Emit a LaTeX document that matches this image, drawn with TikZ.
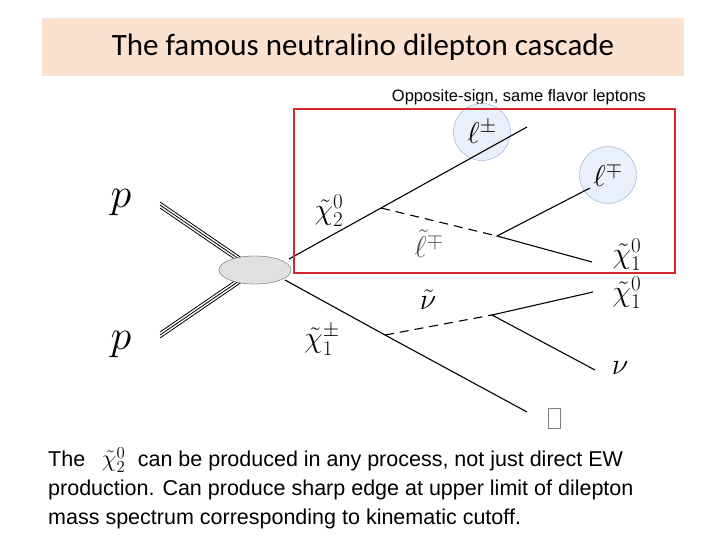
\RequirePackage{fix-cm}
\documentclass[tikz,border=0pt]{standalone}
\usepackage{fontspec}
\setmainfont{Liberation Sans}
\newfontfamily\titlefont{Carlito}
\usetikzlibrary{shapes.geometric}
\definecolor{peach}{HTML}{FBE2D0}
\definecolor{cfill}{HTML}{E9F0FB}
\definecolor{cdraw}{HTML}{8EA9DB}
\definecolor{rbox}{HTML}{D9262B}
\tikzset{
 prt/.style={line width=1.1pt},
 dsh/.style={line width=1.1pt,dash pattern=on 9pt off 6pt},
 lab/.style={font=\fontsize{30}{30}\selectfont,inner sep=0pt},
 bub/.style={circle,fill=cfill,draw=cdraw,minimum size=57pt,inner sep=0pt},
 body/.style={font=\fontsize{21.5}{29}\selectfont,anchor=north west,align=left,inner sep=0pt}
}
\begin{document}
\begin{tikzpicture}[x=1pt,y=-1pt]
\useasboundingbox (0,0) rectangle (720,540);
\node[fill=peach,minimum width=642pt,minimum height=58pt,inner sep=0pt,font=\titlefont\fontsize{31}{31}\selectfont] (title) at (363,47) {The famous neutralino dilepton cascade};
\node[font=\fontsize{16.5}{16.5}\selectfont] (oss) at (519,97) {Opposite-sign, same flavor leptons};
\node[bub] (c1) at (482,132) {};
\node[bub] (c2) at (608,175) {};
\node[ellipse,fill=black!12,draw=black!50,minimum width=72pt,minimum height=28pt,inner sep=0pt] (blob) at (255,270) {};
\coordinate (pa) at (160,205); \coordinate (pb) at (160,335);
\foreach \d in {-3,0,3} {
 \draw[line width=0.8pt] ([yshift=\d pt]pa) -- ([yshift=\d pt]blob.center);
 \draw[line width=0.8pt] ([yshift=\d pt]pb) -- ([yshift=\d pt]blob.center);
}
\node[ellipse,fill=black!12,draw=black!50,minimum width=72pt,minimum height=28pt,inner sep=0pt] at (blob) {};
\node[font=\fontsize{42}{42}\selectfont] (p1) at (121,203) {$p$};
\node[font=\fontsize{42}{42}\selectfont] (p2) at (121,345) {$p$};
\coordinate (u0) at (289,259); \coordinate (ub) at (381,208); \coordinate (ue) at (527,127);
\coordinate (ud) at (497,236); \coordinate (ul) at (590,188); \coordinate (un) at (592,262);
\draw[prt] (u0) -- (ub) -- (ue);
\draw[dsh] (ub) -- (ud);
\draw[prt] (ul) -- (ud) -- (un);
\coordinate (l0) at (285,280); \coordinate (lb) at (385,335); \coordinate (le) at (527,412);
\coordinate (ld) at (492,315); \coordinate (lc) at (593,292); \coordinate (ln) at (595,370);
\draw[prt] (l0) -- (lb) -- (le);
\draw[dsh] (lb) -- (ld);
\draw[prt] (lc) -- (ld) -- (ln);
\node[lab] (lpm) at (c1) {$\ell^{\pm}$};
\node[lab] (lmp) at (c2) {$\ell^{\mp}$};
\node[lab] (x2) at (329,211) {$\tilde\chi_2^0$};
\node[lab,text=black!70] (sl) at (429,244) {$\tilde\ell^{\mp}$};
\node[lab] (x1a) at (627,255) {$\tilde\chi_1^0$};
\node[lab] (x1b) at (627,293) {$\tilde\chi_1^0$};
\node[lab] (snu) at (428,300) {$\tilde\nu$};
\node[lab] (xc) at (322,340) {$\tilde\chi_1^{\pm}$};
\node[lab] (nu) at (620,368) {$\nu$};
\node[draw=black!50,minimum width=12pt,minimum height=20pt,inner sep=0pt] (ebox) at (554,418) {};
\draw[rbox,line width=2.5pt] (294,109) rectangle (675,273);
\node[body] (txt) at (48,447) {The \hspace{0.5em}{\fontsize{24}{24}\selectfont$\tilde\chi_2^0$}\hspace{0.3em} can be produced in any process, not just direct EW\\production. Can produce sharp edge at upper limit of dilepton\\mass spectrum corresponding to kinematic cutoff.};
\end{tikzpicture}
\end{document}
